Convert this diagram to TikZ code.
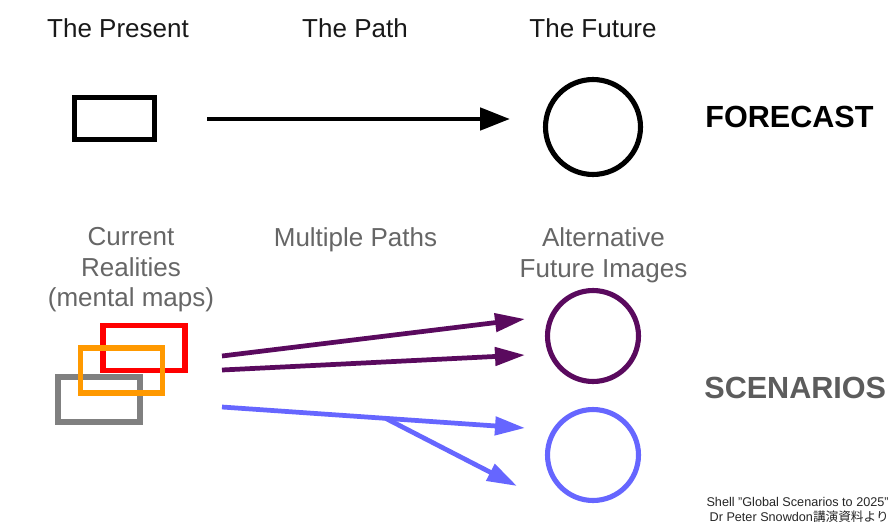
\documentclass[tikz,border=0pt]{standalone}
\usepackage{fontspec}
\setmainfont{Liberation Sans}
\newfontfamily\cjk{Noto Sans CJK JP}
\usetikzlibrary{arrows.meta}

\definecolor{softgray}{HTML}{666666}
\definecolor{plum}{HTML}{5A0A5E}
\definecolor{lilac}{HTML}{6666FF}
\definecolor{amber}{HTML}{FF9900}

\begin{document}
\begin{tikzpicture}[x=0.02cm, y=-0.02cm,
    toptext/.style={font=\fontsize{14.8}{17.4}\selectfont, text=black!90, align=center},
    lowtext/.style={toptext, text=softgray},
    heading/.style={font=\fontsize{17.4}{20}\selectfont\bfseries, inner sep=0pt},
    mapbox/.style={draw, line width=3.4pt, minimum width=1.64cm, minimum height=0.9cm, inner sep=0pt},
    ring/.style={circle, draw, line width=2.9pt, inner sep=0pt},
    road/.style={line width=2.8pt, -{Triangle[length=0.6cm, width=0.44cm]}},
    thinroad/.style={line width=2.7pt, -{Triangle[length=0.6cm, width=0.36cm]}}]
    \fill[white] (0,0) rectangle (891,527);
    \useasboundingbox (0,0) rectangle (891,527);

    % forecast row
    \node[toptext, anchor=base] (present) at (118,38) {The Present};
    \node[toptext, anchor=base] (path) at (355,38) {The Path};
    \node[toptext, anchor=base] (future) at (593,38) {The Future};
    \node[mapbox, minimum width=1.6cm, minimum height=0.84cm, line width=2.9pt] (now) at (114.5,118.5) {};
    \node[ring, minimum size=1.9cm] (goal) at (593,127) {};
    \coordinate (f0) at (207,119);
    \coordinate (f1) at (510,119);
    \draw[road] (f0) -- (f1);
    \node[heading, anchor=base west] (forecast) at (705,127) {FORECAST};

    % scenario row
    \node[lowtext] (realities) at (131,270) {Current\\Realities\\(mental maps)};
    \node[lowtext] (paths) at (355.5,240) {Multiple Paths};
    \node[lowtext] (images) at (603.5,255) {Alternative\\Future Images};
    \node[mapbox, draw=gray] (mapc) at (99,399.5) {};
    \node[mapbox, draw=red] (mapa) at (144,348) {};
    \node[mapbox, draw=amber] (mapb) at (121.5,370.5) {};
    \node[ring, draw=plum, minimum size=1.82cm] (ringa) at (593,336) {};
    \node[ring, draw=lilac, minimum size=1.82cm] (ringb) at (593,455) {};

    \coordinate (p0) at (222,356);
    \coordinate (p1) at (525,319);
    \coordinate (p2) at (222,370);
    \coordinate (p3) at (525,355);
    \draw[thinroad, plum] (p0) -- (p1);
    \draw[thinroad, plum] (p2) -- (p3);

    \coordinate (b0) at (222,407);
    \coordinate (b1) at (525,428);
    \coordinate (b2) at (517,486);
    \draw[thinroad, lilac] (b0) -- coordinate[pos=0.54] (split) (b1);
    \draw[thinroad, lilac] (split) -- (b2);

    \node[heading, text=softgray!90!black, anchor=base west] (scenarios) at (704,398) {SCENARIOS};

    % source note
    \node[font=\fontsize{7.2}{8.4}\selectfont, align=right, anchor=south east, inner sep=0pt, text=black!85]
        (source) at (889,523) {Shell "Global Scenarios to 2025"\\Dr Peter Snowdon{\cjk 講演資料より}};
\end{tikzpicture}
\end{document}
